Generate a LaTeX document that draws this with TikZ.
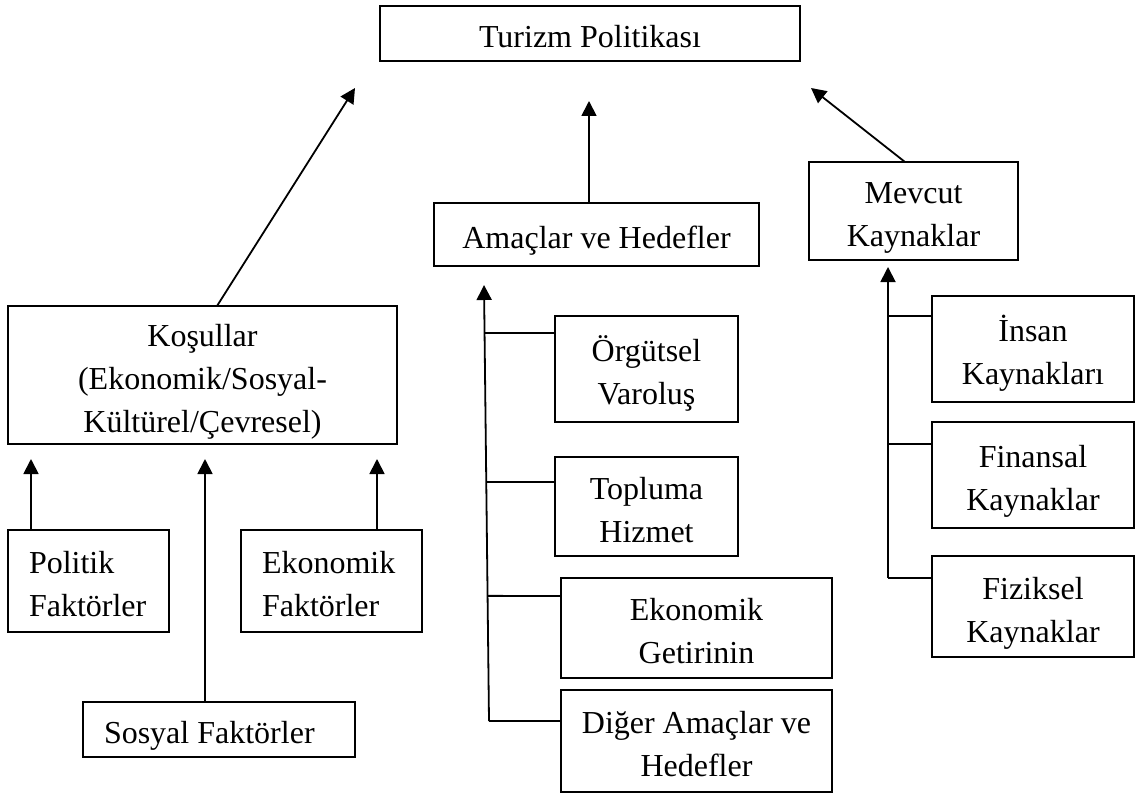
\documentclass[tikz,border=0pt]{standalone}
\usepackage{fontspec}
\setmainfont{Liberation Serif}
\usetikzlibrary{arrows.meta,calc}
\hyphenpenalty=10000
\exhyphenpenalty=10000
\begin{document}
\begin{tikzpicture}[x=1pt,y=-1pt,
  box/.style={draw,line width=1.8pt,inner ysep=0pt,inner xsep=4pt,align=flush center,
    font=\fontsize{32}{43}\selectfont,
    execute at begin node={\rule{0pt}{35pt}},
    execute at end node={\rule[-7pt]{0pt}{7pt}}},
  lbox/.style={box,align=flush left,inner xsep=21pt},
  conn/.style={line width=1.8pt},
  arr/.style={conn,-{Triangle[length=15pt,width=15pt]}}]
\useasboundingbox[fill=white] (0,0) rectangle (1137,794);

% main box
\node[box,text width=412,minimum height=55] (tp) at (590,33.5) {Turizm Politikası};

% second level
\node[box,text width=381,minimum height=138] (kos) at (202.5,375)
  {Koşullar\\(Ekonomik/Sosyal-\\Kültürel/Çevresel)};
\node[box,text width=317,minimum height=63] (ama) at (596.5,234.5) {Amaçlar ve Hedefler};
\node[box,text width=201,minimum height=98] (mev) at (913.5,211) {Mevcut\\Kaynaklar};

% factors
\node[lbox,text width=119,minimum height=102] (pol) at (88.5,581) {Politik\\Faktörler};
\node[lbox,text width=139,minimum height=102] (eko) at (331.5,581) {Ekonomik\\Faktörler};
\node[lbox,text width=230,minimum height=55] (sos) at (219,729.5) {Sosyal Faktörler};

% goals
\node[box,text width=175,minimum height=106] (org) at (646.5,369) {Örgütsel\\Varoluş};
\node[box,text width=175,minimum height=99] (top) at (646.5,506.5) {Topluma\\Hizmet};
\node[box,text width=263,minimum height=100] (get) at (696.5,628) {Ekonomik\\Getirinin};
\node[box,text width=263,minimum height=102] (dig) at (696.5,741) {Diğer Amaçlar ve\\Hedefler};

% resources
\node[box,text width=194,minimum height=106] (ins) at (1033,349) {İnsan\\Kaynakları};
\node[box,text width=194,minimum height=106] (fin) at (1033,475) {Finansal\\Kaynaklar};
\node[box,text width=194,minimum height=101] (fiz) at (1033,606.5) {Fiziksel\\Kaynaklar};

% arrows into the main box
\coordinate (tipL) at (355,88);
\coordinate (tipC) at (589,101);
\coordinate (tipR) at (811,88);
\coordinate (kosOut) at (217,306);
\coordinate (amaOut) at (589,203);
\coordinate (mevOut) at (905,162);
\draw[arr] (kosOut) -- (tipL);
\draw[arr] (amaOut) -- (tipC);
\draw[arr] (mevOut) -- (tipR);

% factors into conditions
\coordinate (kosL) at (31,459);
\coordinate (kosC) at (205,459);
\coordinate (kosR) at (377,459);
\draw[arr] (pol.north -| kosL) -- (kosL);
\draw[arr] (sos.north -| kosC) -- (kosC);
\draw[arr] (eko.north -| kosR) -- (kosR);

% goals trunk
\coordinate (gTip) at (484,285);
\coordinate (gBot) at (489,721);
\draw[arr] (gBot) -- (gTip);
\draw[conn] ($(gTip)!0.11!(gBot)$) -- (org.west |- 0,333);
\draw[conn] ($(gTip)!0.452!(gBot)$) -- (top.west |- 0,482);
\draw[conn] ($(gTip)!0.713!(gBot)$) -- (get.west |- 0,596);
\draw[conn] (gBot) -- (dig.west |- gBot);

% resources trunk
\coordinate (rTip) at (888,267);
\coordinate (rBot) at (888,578);
\draw[arr] (rBot) -- (rTip);
\draw[conn] (rTip |- 0,316) -- (ins.west |- 0,316);
\draw[conn] (rTip |- 0,444) -- (fin.west |- 0,444);
\draw[conn] (rBot) -- (fiz.west |- rBot);
\end{tikzpicture}
\end{document}
